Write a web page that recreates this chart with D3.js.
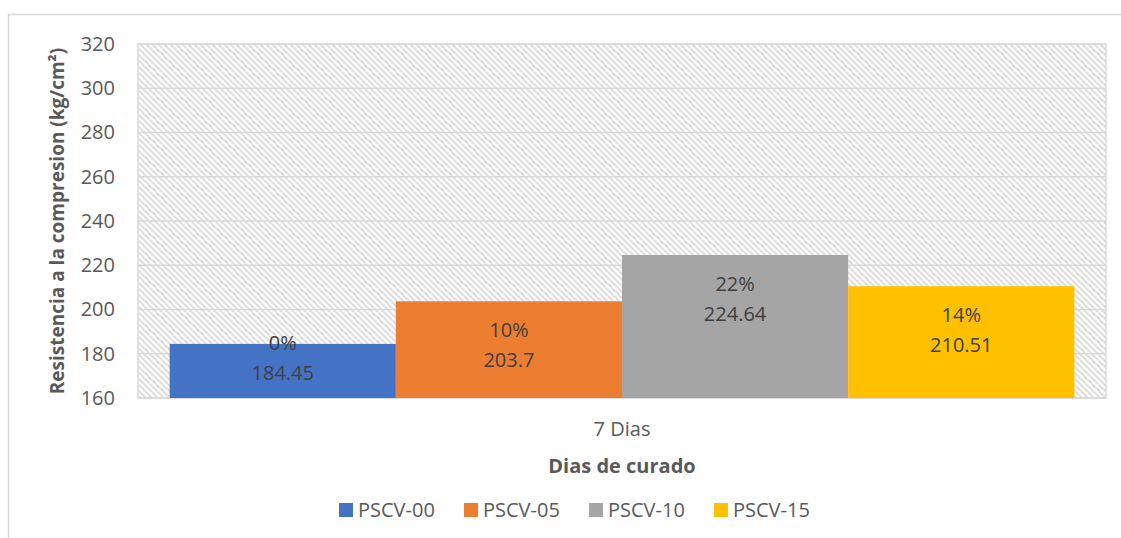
<!DOCTYPE html>
<html>
<head>
<meta charset="utf-8">
<script src="https://cdn.jsdelivr.net/npm/d3@7"></script>
<style>
  body { margin: 0; background: #fff; }
  svg text { font-family: "Open Sans", "Liberation Sans", sans-serif; }
</style>
</head>
<body>
<div id="container"></div>
<script>
// data
const categories = ["7 Dias"];
const series = ["PSCV-00", "PSCV-05", "PSCV-10", "PSCV-15"];
const values = [184.45, 203.7, 224.64, 210.51];
const percents = ["0%", "10%", "22%", "14%"];
const colors = ["#4472c4", "#ed7d31", "#a5a5a5", "#ffc000"];
const yTicks = [160, 180, 200, 220, 240, 260, 280, 300, 320];

var width = 1121, height = 538;
var margin = { left: 138, top: 44, right: 15, bottom: 140 };

const svg = d3.select("#container").append("svg")
    .attr("width", width)
    .attr("height", height);

// hatch pattern for plot background
const defs = svg.append("defs");
const pat = defs.append("pattern")
    .attr("id", "hatch")
    .attr("patternUnits", "userSpaceOnUse")
    .attr("width", 6)
    .attr("height", 6);
pat.append("rect").attr("width", 6).attr("height", 6).attr("fill", "#fff");
pat.append("path")
    .attr("d", "M0,0 L6,6 M-3,3 L3,9 M3,-3 L9,3")
    .attr("stroke", "#d9d9d9")
    .attr("stroke-width", 1.6);

// chart border
svg.append("rect")
    .attr("x", 8.5).attr("y", 14.5)
    .attr("width", 1200).attr("height", 600)
    .attr("fill", "none")
    .attr("stroke", "#d9d9d9")
    .attr("stroke-width", 1.5);

const x0 = d3.scaleBand()
    .domain(categories)
    .range([margin.left, width - margin.right])
    .paddingInner(0)
    .paddingOuter(0.035);

const x1 = d3.scaleBand()
    .domain(series)
    .range([0, x0.bandwidth()])
    .padding(0);

const y = d3.scaleLinear()
    .domain([160, 320])
    .range([height - margin.bottom, margin.top]);

// plot area
svg.append("rect")
    .attr("x", margin.left)
    .attr("y", margin.top)
    .attr("width", width - margin.right - margin.left)
    .attr("height", y(160) - y(320))
    .attr("fill", "url(#hatch)")
    .attr("stroke", "#d9d9d9")
    .attr("stroke-width", 1.5);

// gridlines
svg.append("g")
    .selectAll("line")
    .data(yTicks)
    .join("line")
    .attr("x1", margin.left)
    .attr("x2", width - margin.right)
    .attr("y1", d => y(d))
    .attr("y2", d => y(d))
    .attr("stroke", "#d9d9d9")
    .attr("stroke-width", 1.5);

// y axis
const yAxis = svg.append("g")
    .attr("transform", "translate(" + margin.left + ",0)")
    .call(d3.axisLeft(y).tickValues(yTicks).tickSize(0).tickPadding(23));
yAxis.select(".domain").remove();
yAxis.selectAll("text")
    .attr("fill", "#595959")
    .attr("font-size", 20);

// bars
const barData = series.map((s, i) => ({ cat: categories[0], name: s, value: values[i], pct: percents[i], color: colors[i] }));

svg.append("g")
    .selectAll("rect")
    .data(barData)
    .join("rect")
    .attr("x", d => x0(d.cat) + x1(d.name))
    .attr("y", d => y(d.value))
    .attr("width", x1.bandwidth())
    .attr("height", d => y(160) - y(d.value))
    .attr("fill", d => d.color);

// data labels
const labels = svg.append("g")
    .selectAll("text")
    .data(barData)
    .join("text")
    .attr("text-anchor", "middle")
    .attr("fill", "#404040")
    .attr("font-size", 20);

function labelY(d) {
    return Math.min(y(d.value) + 29, y(160) - 55);
}

labels.append("tspan")
    .attr("x", d => x0(d.cat) + x1(d.name) + x1.bandwidth() / 2)
    .attr("y", d => labelY(d))
    .attr("dy", "0.35em")
    .text(d => d.pct);
labels.append("tspan")
    .attr("x", d => x0(d.cat) + x1(d.name) + x1.bandwidth() / 2)
    .attr("y", d => labelY(d) + 30)
    .attr("dy", "0.35em")
    .text(d => d.value);

// x category label
svg.append("g")
    .selectAll("text")
    .data(categories)
    .join("text")
    .attr("x", d => x0(d) + x0.bandwidth() / 2)
    .attr("y", 429)
    .attr("dy", "0.35em")
    .attr("text-anchor", "middle")
    .attr("fill", "#595959")
    .attr("font-size", 20)
    .text(d => d);

// axis titles
svg.append("text")
    .attr("x", x0(categories[0]) + x0.bandwidth() / 2)
    .attr("y", 466)
    .attr("dy", "0.35em")
    .attr("text-anchor", "middle")
    .attr("fill", "#595959")
    .attr("font-size", 20)
    .attr("font-weight", "bold")
    .text("Dias de curado");

svg.append("text")
    .attr("transform", "translate(57," + ((y(160) + y(320)) / 2) + ") rotate(-90)")
    .attr("dy", "0.35em")
    .attr("text-anchor", "middle")
    .attr("fill", "#595959")
    .attr("font-size", 19)
    .attr("font-weight", "bold")
    .text("Resistencia a la compresion (kg/cm²)");

// legend
const legend = svg.append("g")
    .selectAll("g")
    .data(barData)
    .join("g")
    .attr("transform", (d, i) => "translate(" + (339 + i * 125) + ",503)");
legend.append("rect")
    .attr("width", 14)
    .attr("height", 14)
    .attr("fill", d => d.color);
legend.append("text")
    .attr("x", 19)
    .attr("y", 7)
    .attr("dy", "0.35em")
    .attr("fill", "#595959")
    .attr("font-size", 20)
    .text(d => d.name);
</script>
</body>
</html>
